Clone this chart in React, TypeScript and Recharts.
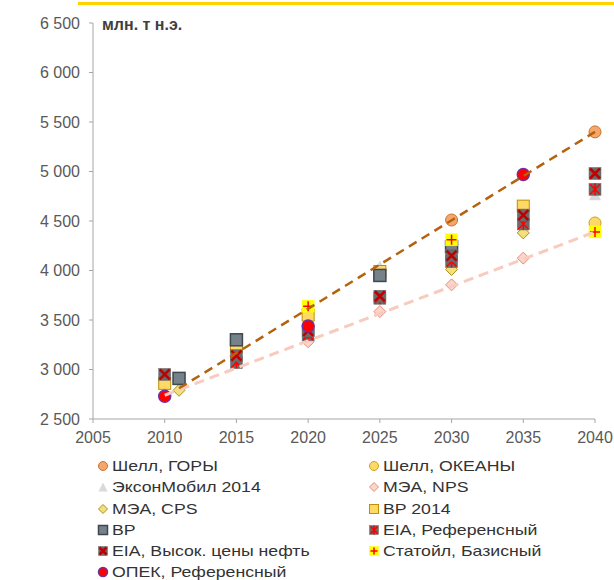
import { ScatterChart, Scatter, XAxis, YAxis } from 'recharts'

type Pt = { year: number; value: number }

const xTicks = [2005, 2010, 2015, 2020, 2025, 2030, 2035, 2040]
const yTicks = [2500, 3000, 3500, 4000, 4500, 5000, 5500, 6000, 6500]

const shellMountains: Pt[] = [
  { year: 2030, value: 4510 },
  { year: 2040, value: 5400 },
]
const shellOceans: Pt[] = [{ year: 2040, value: 4480 }]
const exxon2014: Pt[] = [
  { year: 2025, value: 4040 },
  { year: 2040, value: 4770 },
]
const ieaNps: Pt[] = [
  { year: 2020, value: 3280 },
  { year: 2025, value: 3585 },
  { year: 2030, value: 3855 },
  { year: 2035, value: 4125 },
  { year: 2040, value: 4390 },
]
const ieaCps: Pt[] = [
  { year: 2011, value: 2790 },
  { year: 2030, value: 4010 },
  { year: 2035, value: 4380 },
]
const bp2014: Pt[] = [
  { year: 2010, value: 2860 },
  { year: 2015, value: 3230 },
  { year: 2020, value: 3550 },
  { year: 2025, value: 3990 },
  { year: 2035, value: 4650 },
]
const bp: Pt[] = [
  { year: 2011, value: 2910 },
  { year: 2015, value: 3300 },
  { year: 2025, value: 3950 },
  { year: 2030, value: 4240 },
]
const eiaRef: Pt[] = [
  { year: 2015, value: 3070 },
  { year: 2020, value: 3350 },
  { year: 2025, value: 3720 },
  { year: 2030, value: 4090 },
  { year: 2035, value: 4470 },
  { year: 2040, value: 4820 },
]
const eiaHigh: Pt[] = [
  { year: 2010, value: 2950 },
  { year: 2015, value: 3140 },
  { year: 2020, value: 3390 },
  { year: 2025, value: 3740 },
  { year: 2030, value: 4150 },
  { year: 2035, value: 4560 },
  { year: 2040, value: 4980 },
]
const statoil: Pt[] = [
  { year: 2020, value: 3640 },
  { year: 2030, value: 4310 },
  { year: 2040, value: 4390 },
]
const opec: Pt[] = [
  { year: 2010, value: 2730 },
  { year: 2020, value: 3440 },
  { year: 2035, value: 4970 },
]

// dashed trend lines
const highTrend: Pt[] = [
  { year: 2011, value: 2810 },
  { year: 2040, value: 5400 },
]
const lowTrend: Pt[] = [
  { year: 2010, value: 2740 },
  { year: 2040, value: 4390 },
]

const FONT = '"Liberation Sans", Arial, sans-serif'

type Kind =
  | 'shellMountains'
  | 'shellOceans'
  | 'exxon'
  | 'ieaNps'
  | 'ieaCps'
  | 'bp2014'
  | 'bp'
  | 'eiaRef'
  | 'eiaHigh'
  | 'statoil'
  | 'opec'

const series: { name: string; data: Pt[]; kind: Kind }[] = [
  { name: 'Шелл, ГОРЫ', data: shellMountains, kind: 'shellMountains' },
  { name: 'Шелл, ОКЕАНЫ', data: shellOceans, kind: 'shellOceans' },
  { name: 'ЭксонМобил 2014', data: exxon2014, kind: 'exxon' },
  { name: 'МЭА, NPS', data: ieaNps, kind: 'ieaNps' },
  { name: 'МЭА, CPS', data: ieaCps, kind: 'ieaCps' },
  { name: 'BP 2014', data: bp2014, kind: 'bp2014' },
  { name: 'BP', data: bp, kind: 'bp' },
  { name: 'EIA, Референсный', data: eiaRef, kind: 'eiaRef' },
  { name: 'EIA, Высок. цены нефть', data: eiaHigh, kind: 'eiaHigh' },
  { name: 'Статойл, Базисный', data: statoil, kind: 'statoil' },
  { name: 'ОПЕК, Референсный', data: opec, kind: 'opec' },
]

function Marker({ kind, cx, cy, s }: { kind: Kind; cx: number; cy: number; s: number }) {
  const h = s / 2
  const sq = (fill: string, stroke: string, sw: number) => (
    <rect x={cx - h} y={cy - h} width={s} height={s} fill={fill} stroke={stroke} strokeWidth={sw} />
  )
  switch (kind) {
    case 'shellMountains':
      return <circle cx={cx} cy={cy} r={h} fill="#F7A66B" stroke="#C8722E" strokeWidth={1} />
    case 'shellOceans':
      return <circle cx={cx} cy={cy} r={h} fill="#FFD966" stroke="#C9A227" strokeWidth={1} />
    case 'exxon':
      return (
        <polygon
          points={`${cx},${cy - h} ${cx + h},${cy + h} ${cx - h},${cy + h}`}
          fill="#D9D9D9"
        />
      )
    case 'ieaNps':
      return (
        <polygon
          points={`${cx},${cy - h} ${cx + h},${cy} ${cx},${cy + h} ${cx - h},${cy}`}
          fill="#FBD5CA"
          stroke="#E58F7A"
          strokeWidth={1}
        />
      )
    case 'ieaCps':
      return (
        <polygon
          points={`${cx},${cy - h} ${cx + h},${cy} ${cx},${cy + h} ${cx - h},${cy}`}
          fill="#F2E07A"
          stroke="#A89020"
          strokeWidth={1}
        />
      )
    case 'bp2014':
      return sq('#FFD966', '#BF9000', 1)
    case 'bp':
      return sq('#76828B', '#3F474F', 1.5)
    case 'eiaRef':
      return (
        <g>
          {sq('#6B6B6B', '#6B6B6B', 0.5)}
          <path
            d={`M${cx - h + 1},${cy - h + 1}L${cx + h - 1},${cy + h - 1}M${cx + h - 1},${cy - h + 1}L${cx - h + 1},${cy + h - 1}M${cx},${cy - h}L${cx},${cy + h}`}
            stroke="#FF0000"
            strokeWidth={1.5}
          />
        </g>
      )
    case 'eiaHigh':
      return (
        <g>
          {sq('#6B6B6B', '#6B6B6B', 0.5)}
          <path
            d={`M${cx - h + 1},${cy - h + 1}L${cx + h - 1},${cy + h - 1}M${cx + h - 1},${cy - h + 1}L${cx - h + 1},${cy + h - 1}`}
            stroke="#C00000"
            strokeWidth={2.6}
          />
        </g>
      )
    case 'statoil':
      return (
        <g>
          {sq('#FFFF00', '#FFFF00', 0.5)}
          <path
            d={`M${cx - h + 1},${cy}L${cx + h - 1},${cy}M${cx},${cy - h + 1}L${cx},${cy + h - 1}`}
            stroke="#FF0000"
            strokeWidth={1.5}
          />
        </g>
      )
    case 'opec':
      return <circle cx={cx} cy={cy} r={h} fill="#FF0000" stroke="#7030A0" strokeWidth={1.5} />
  }
  return null
}

const fmt = (v: number) => String(v).replace(/\B(?=(\d{3})+(?!\d))/g, '\u00a0')

const legendRows = [466, 487, 509, 530, 551, 572]

export default function App() {
  return (
    <div style={{ position: 'absolute', left: 0, top: 0, width: 614, height: 580, fontFamily: FONT, background: '#fff' }}>
      <div style={{ position: 'absolute', left: 78, top: 2, width: 536, height: 3, background: '#FFD200' }} />
      <ScatterChart width={614} height={450} margin={{ top: 23, right: 19, bottom: 0, left: 0 }}>
        <XAxis
          type="number"
          dataKey="year"
          domain={[2005, 2040]}
          ticks={xTicks}
          height={31}
          tickSize={4}
          tickMargin={9}
          stroke="#A6A6A6"
          tick={{ fill: '#595959', fontSize: 16, fontFamily: FONT }}
        />
        <YAxis
          type="number"
          dataKey="value"
          domain={[2500, 6500]}
          ticks={yTicks}
          width={93}
          tickSize={4}
          tickMargin={9}
          stroke="#A6A6A6"
          tickFormatter={fmt}
          tick={{ fill: '#595959', fontSize: 16, fontFamily: FONT }}
        />
        {series.map((s) => (
          <Scatter
            key={s.name}
            name={s.name}
            data={s.data}
            isAnimationActive={false}
            shape={(p: any) => <Marker kind={s.kind} cx={p.cx} cy={p.cy} s={12} />}
          />
        ))}
        <Scatter
          data={lowTrend}
          isAnimationActive={false}
          line={{ stroke: '#F8CBBE', strokeWidth: 3, strokeDasharray: '10 6' }}
          shape={() => <g />}
        />
        <Scatter
          data={highTrend}
          isAnimationActive={false}
          line={{ stroke: '#B5620F', strokeWidth: 2.5, strokeDasharray: '9 6' }}
          shape={() => <g />}
        />
      </ScatterChart>
      <div
        style={{
          position: 'absolute',
          left: 102,
          top: 16,
          fontSize: 16,
          lineHeight: '18px',
          fontWeight: 'bold',
          color: '#404040',
          whiteSpace: 'nowrap',
        }}
      >
        млн. т н.э.
      </div>
      {series.map((s, i) => {
        const col = i % 2
        const row = Math.floor(i / 2)
        const iconX = col === 0 ? 103 : 374
        const textX = col === 0 ? 112 : 383
        const y = legendRows[row]
        return (
          <div key={s.name}>
            <svg
              style={{ position: 'absolute', left: iconX - 6, top: y - 6 }}
              width={12}
              height={12}
            >
              <Marker kind={s.kind} cx={6} cy={6} s={9} />
            </svg>
            <div
              style={{
                position: 'absolute',
                left: textX,
                top: y - 9,
                fontSize: 15,
                lineHeight: '18px',
                color: '#333',
                whiteSpace: 'nowrap',
                transform: 'scaleX(1.18)',
                transformOrigin: 'left center',
              }}
            >
              {s.name}
            </div>
          </div>
        )
      })}
    </div>
  )
}
